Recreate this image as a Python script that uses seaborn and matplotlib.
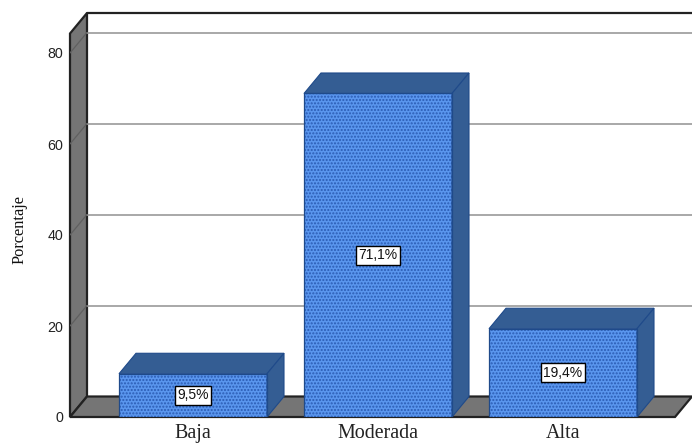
import matplotlib
matplotlib.use("Agg")
import matplotlib.pyplot as plt
import pandas as pd
import seaborn as sns

categories = ["Baja", "Moderada", "Alta"]
values = [9.5, 71.1, 19.4]
value_labels = ["9,5%", "71,1%", "19,4%"]
y_ticks = [0, 20, 40, 60, 80]

W, H = 692, 443
LEFT, BOTTOM, TOP = 70, 417, 13

# pixel scales of the picture: 185 px per category, 4.55 px per percent
x_lo = (LEFT - 193) / 185
x_hi = (W - 193) / 185
y_hi = (BOTTOM - TOP) / 4.55

# 3d offset of the back wall, in data units
dx = 17 / 185
dy = 20.5 / 4.55

BLUE = "#5a96ee"
BLUE_DARK = "#345d93"
EDGE = "#1f4a8a"
WALL = "#757575"

plt.rcParams["hatch.linewidth"] = 1.0
sns.set_style("white")

df = pd.DataFrame({"categoria": categories, "porcentaje": values})

fig = plt.figure(figsize=(W / 100, H / 100), dpi=100)
ax = fig.add_axes([LEFT / W, 1 - BOTTOM / H, (W - LEFT) / W, (BOTTOM - TOP) / H])

# paredes
ax.fill([x_lo, x_lo + dx, x_lo + dx, x_lo], [0, dy, y_hi, y_hi - dy],
        facecolor=WALL, edgecolor="#222222", linewidth=1.6, clip_on=False, zorder=1)
ax.fill([x_lo, x_lo + dx, x_hi, x_hi - dx], [0, dy, dy, 0],
        facecolor=WALL, edgecolor="#222222", linewidth=1.6, clip_on=False, zorder=1)
ax.plot([x_lo + dx, x_hi], [y_hi, y_hi], color="#222222", lw=1.6, clip_on=False, zorder=2)

# rejilla
for v in y_ticks[1:]:
    ax.plot([x_lo + dx, x_hi], [v + dy, v + dy], color="#999999", lw=1.2, zorder=2)
    ax.plot([x_lo, x_lo + dx], [v, v + dy], color="#606060", lw=0.9, zorder=2)

sns.barplot(data=df, x="categoria", y="porcentaje", order=categories, width=0.8,
            color=BLUE, saturation=1, ax=ax, zorder=4)

for bar, v, txt in zip(ax.containers[0], values, value_labels):
    x0 = bar.get_x()
    x1 = x0 + bar.get_width()
    bar.set_facecolor(BLUE)
    bar.set_edgecolor("#2a5cb4")
    bar.set_hatch(".....")
    bar.set_linewidth(0)
    # cara superior y lateral
    ax.fill([x0, x0 + dx, x1 + dx, x1], [v, v + dy, v + dy, v],
            facecolor=BLUE_DARK, edgecolor=EDGE, linewidth=0.8, zorder=5)
    ax.fill([x1, x1 + dx, x1 + dx, x1], [0, dy, v + dy, v],
            facecolor=BLUE_DARK, edgecolor=EDGE, linewidth=0.8, zorder=5)
    ax.plot([x0, x1, x1, x0, x0], [0, 0, v, v, 0], color=EDGE, lw=0.9, zorder=6)
    ax.text((x0 + x1) / 2, v / 2, txt, ha="center", va="center",
            fontsize=10, family="Liberation Sans", color="#111111", zorder=7,
            bbox=dict(boxstyle="square,pad=0.18", facecolor="white",
                      edgecolor="black", linewidth=1.0))

ax.set_xlim(x_lo, x_hi)
ax.set_ylim(0, y_hi)
ax.patch.set_alpha(0)
sns.despine(ax=ax, left=True, bottom=True, right=True, top=True)

ax.set_yticks(y_ticks)
ax.set_yticklabels([str(v) for v in y_ticks], family="Liberation Sans", fontsize=10.3, color="#222222")
ax.tick_params(axis="y", length=0, pad=5)
ax.tick_params(axis="x", length=0, pad=5)
ax.set_xticks(range(len(categories)))
ax.set_xticklabels(categories, family="Liberation Serif", fontsize=14.4, color="#222222")
ax.set_xlabel("")
ax.set_ylabel("Porcentaje", family="Liberation Serif", fontsize=11.8, color="#111111")
ax.yaxis.set_label_coords((28 - LEFT) / (W - LEFT), (BOTTOM - 230) / (BOTTOM - TOP))

fig.savefig("out.png", dpi=100)
